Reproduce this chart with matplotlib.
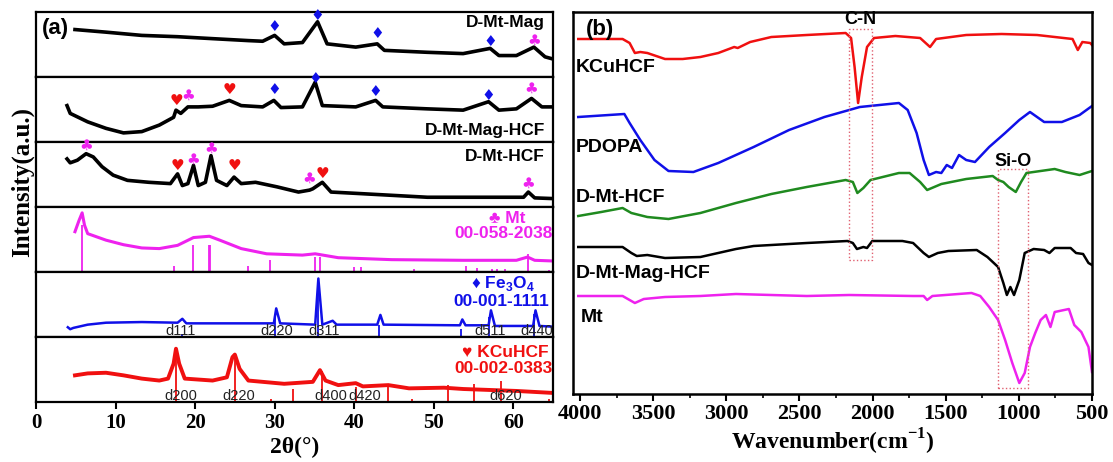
import numpy as np
import matplotlib.pyplot as plt
from matplotlib.ticker import MultipleLocator

SANS = ['Liberation Sans', 'DejaVu Sans']
SERIF = ['Liberation Serif', 'DejaVu Serif']
SYM = ['DejaVu Sans']

plt.rcParams['font.family'] = SERIF
plt.rcParams['font.weight'] = 'bold'
plt.rcParams['mathtext.fontset'] = 'custom'
plt.rcParams['mathtext.rm'] = 'Liberation Sans:bold'
plt.rcParams['mathtext.bf'] = 'Liberation Serif:bold'

RED = '#f01010'
BLUE = '#1010e8'
MAG = '#ee22ee'
GREEN = '#1f8a1f'

xrd_ticks = [0, 10, 20, 30, 40, 50, 60]
ftir_ticks = [4000, 3500, 3000, 2500, 2000, 1500, 1000, 500]

# ---------------- (a) XRD, each row normalised 0..1 ----------------
mag_x = [4.9, 8.8, 13.3, 17.8, 22.2, 26.7, 28.5, 30.0, 31.2, 33.5, 35.4, 36.6, 40.2,
         42.9, 43.8, 49.2, 53.7, 57.1, 58.2, 60.4, 62.6, 64.0, 64.9]
mag_y = [0.73, 0.69, 0.64, 0.62, 0.59, 0.56, 0.55, 0.64, 0.51, 0.53, 0.85, 0.51, 0.46,
         0.51, 0.41, 0.38, 0.36, 0.44, 0.33, 0.33, 0.46, 0.31, 0.28]

maghcf_x = [3.9, 4.3, 6.5, 8.8, 11.0, 13.3, 15.5, 17.3, 17.6, 18.2, 19.1, 20.4, 22.2, 24.3,
            25.8, 28.5, 29.9, 30.8, 33.5, 35.1, 36.0, 40.2, 42.7, 43.6, 49.2, 53.7, 56.9,
            58.2, 60.4, 62.3, 63.6, 64.9]
maghcf_y = [0.56, 0.44, 0.31, 0.21, 0.14, 0.16, 0.26, 0.38, 0.49, 0.44, 0.54, 0.54, 0.55, 0.64,
            0.56, 0.54, 0.64, 0.53, 0.54, 0.92, 0.56, 0.54, 0.64, 0.54, 0.51, 0.49, 0.62,
            0.49, 0.51, 0.67, 0.54, 0.54]

hcf_x = [3.9, 4.3, 5.2, 6.3, 7.2, 8.3, 9.7, 11.5, 14.2, 16.9, 17.8, 18.4, 19.1, 19.8, 20.4,
         21.3, 22.0, 22.7, 24.0, 24.9, 25.8, 27.6, 30.3, 33.0, 34.4, 34.8, 36.0, 37.1, 40.2,
         49.2, 58.2, 61.3, 61.9, 62.7, 64.9]
hcf_y = [0.74, 0.68, 0.72, 0.82, 0.77, 0.62, 0.49, 0.41, 0.38, 0.36, 0.51, 0.33, 0.36, 0.64, 0.33,
         0.38, 0.79, 0.41, 0.33, 0.46, 0.36, 0.38, 0.31, 0.23, 0.26, 0.28, 0.38, 0.23, 0.21,
         0.15, 0.15, 0.15, 0.23, 0.14, 0.13]

mt_x = [4.9, 5.4, 5.8, 6.1, 6.5, 8.8, 11.0, 13.3, 15.5, 17.8, 19.8, 21.8, 23.1, 25.8, 29.0,
        33.5, 35.1, 38.0, 44.7, 53.7, 60.4, 61.8, 62.7, 64.9]
mt_y = [0.62, 0.79, 0.91, 0.72, 0.59, 0.49, 0.42, 0.37, 0.36, 0.41, 0.53, 0.55, 0.49, 0.36, 0.28,
        0.26, 0.28, 0.22, 0.19, 0.18, 0.18, 0.23, 0.18, 0.17]
mt_stick_x = [5.8, 17.3, 19.8, 21.7, 21.9, 26.6, 29.4, 35.1, 35.7, 40.0, 40.8, 47.5, 54.0,
              55.4, 57.3, 58.0, 59.0, 61.8, 64.5]
mt_stick_h = [0.72, 0.10, 0.41, 0.41, 0.41, 0.10, 0.18, 0.23, 0.23, 0.08, 0.08, 0.04, 0.09,
              0.06, 0.05, 0.05, 0.05, 0.28, 0.03]

fe_x = [4.0, 4.3, 4.7, 6.5, 8.8, 13.3, 17.8, 18.4, 18.9, 29.9, 30.2, 30.7, 35.1, 35.5, 36.0,
        37.3, 37.8, 42.9, 43.3, 43.7, 53.3, 53.6, 54.0, 56.9, 57.2, 57.7, 62.5, 62.8, 63.3, 64.9]
fe_y = [0.15, 0.12, 0.14, 0.19, 0.22, 0.23, 0.22, 0.28, 0.21, 0.21, 0.44, 0.21, 0.19, 0.90, 0.19,
        0.25, 0.19, 0.19, 0.34, 0.19, 0.18, 0.27, 0.18, 0.18, 0.41, 0.17, 0.17, 0.41, 0.17, 0.16]
fe_stick_x = [18.3, 30.1, 35.5, 43.1, 53.4, 57.0, 62.6]
fe_stick_h = [0.05, 0.30, 0.85, 0.18, 0.13, 0.30, 0.35]
fe_d_x = [18.2, 30.3, 36.2, 57.1, 62.9]
fe_d_txt = ['d111', 'd220', 'd311', 'd511', 'd440']

cu_x = [4.9, 6.5, 8.8, 11.0, 13.3, 15.5, 16.6, 17.3, 17.6, 18.0, 18.7, 22.2, 24.0, 24.7, 25.0,
        25.6, 26.7, 31.2, 34.8, 35.7, 36.4, 38.0, 40.2, 41.1, 44.3, 46.9, 51.3, 53.7, 58.2,
        60.4, 64.9]
cu_y = [0.41, 0.44, 0.45, 0.41, 0.36, 0.33, 0.36, 0.59, 0.82, 0.59, 0.36, 0.33, 0.38, 0.69, 0.73,
        0.51, 0.33, 0.28, 0.31, 0.49, 0.33, 0.26, 0.29, 0.24, 0.26, 0.21, 0.22, 0.20, 0.18,
        0.17, 0.14]
cu_stick_x = [17.6, 25.0, 29.5, 32.3, 35.9, 40.2, 44.3, 47.3, 51.8, 55.1, 58.5, 64.5]
cu_stick_h = [0.80, 0.70, 0.05, 0.20, 0.48, 0.23, 0.23, 0.05, 0.26, 0.28, 0.33, 0.04]
cu_d_x = [18.2, 25.5, 37.1, 41.3, 59.1]
cu_d_txt = ['d200', 'd220', 'd400', 'd420', 'd620']

# phase markers per row: (2theta, height)
dia_rows = {0: [(30.0, 0.77), (35.4, 0.95), (42.9, 0.67), (57.1, 0.54)],
            1: [(29.9, 0.81), (35.1, 0.98), (42.7, 0.78), (56.9, 0.72)]}
club_rows = {0: [(62.6, 0.56)],
             1: [(19.1, 0.72), (62.3, 0.82)],
             2: [(6.3, 0.95), (19.8, 0.73), (22.0, 0.90), (34.4, 0.44), (61.9, 0.37)]}
heart_rows = {1: [(17.6, 0.64), (24.3, 0.81)],
              2: [(17.8, 0.64), (24.9, 0.64), (36.0, 0.51)]}

# ---------------- (b) FTIR ----------------
k_wn = [4012, 3709, 3661, 3625, 3588, 3540, 3419, 3298, 3177, 3055, 2946, 2922, 2837, 2692,
        2450, 2184, 2147, 2123, 2099, 2074, 2038, 1990, 1844, 1675, 1607, 1566, 1360, 1118,
        876, 633, 597, 566, 512, 500]
k_t = [355, 355, 351, 341, 342, 341, 335, 335, 337, 341, 347, 346, 352, 357,
       359, 361, 356, 327, 291, 317, 347, 356, 358, 356, 347, 355, 359, 360,
       359, 355, 344, 352, 351, 349]

p_wn = [4012, 3697, 3661, 3588, 3491, 3395, 3225, 3055, 2813, 2571, 2329, 2087, 1820, 1760,
        1699, 1651, 1615, 1566, 1530, 1493, 1457, 1409, 1360, 1300, 1203, 1094, 997, 924,
        827, 706, 585, 500]
p_t = [277, 280, 271, 254, 234, 223, 222, 231, 247, 264, 277, 287, 291, 284,
       261, 234, 219, 222, 221, 229, 226, 239, 234, 232, 247, 261, 274, 282,
       272, 272, 279, 288]

g_wn = [4012, 3855, 3709, 3649, 3540, 3395, 3177, 2934, 2692, 2450, 2184, 2135, 2104, 2063,
        2014, 1820, 1747, 1675, 1627, 1530, 1360, 1179, 1142, 1106, 1070, 1021, 985, 948,
        755, 682, 585, 500]
g_t = [178, 182, 186, 181, 177, 175, 181, 191, 200, 207, 214, 212, 201, 206,
       214, 221, 221, 212, 204, 210, 215, 218, 214, 212, 207, 202, 212, 221,
       225, 222, 219, 223]

b_wn = [4012, 3709, 3649, 3612, 3540, 3419, 3177, 2934, 2813, 2450, 2172, 2135, 2107, 2063,
        2038, 2002, 1796, 1723, 1651, 1615, 1554, 1482, 1288, 1215, 1142, 1106, 1082, 1058,
        1033, 997, 960, 899, 827, 791, 755, 646, 609, 561, 524, 500]
b_t = [147, 147, 141, 138, 139, 136, 137, 145, 148, 151, 153, 151, 145, 147,
       146, 153, 153, 151, 141, 137, 141, 143, 144, 137, 127, 111, 99, 107,
       99, 114, 141, 145, 144, 141, 146, 146, 141, 140, 131, 129]

m_wn = [4012, 3709, 3625, 3564, 3419, 3177, 2934, 2450, 2160, 1723, 1651, 1627, 1591, 1324,
        1264, 1203, 1142, 1094, 1045, 997, 960, 924, 888, 851, 815, 784, 755, 658, 621,
        573, 524, 500]
m_t = [98, 98, 91, 95, 97, 98, 100, 98, 99, 98, 98, 94, 98, 101,
       98, 87, 74, 54, 31, 11, 21, 47, 61, 74, 79, 67, 82, 85, 69,
       62, 47, 22]

cn_box = (2164, 2002, 134, 365)
sio_box = (1142, 936, 6, 225)

fig = plt.figure(figsize=(11.13, 4.62), dpi=100)

# left stacked panel
L, R, B, T = 36 / 1113, 553 / 1113, 1 - 402 / 462, 1 - 12 / 462
rh = (T - B) / 6
axs = []
for i in range(6):
    ax = fig.add_axes([L, T - (i + 1) * rh, R - L, rh])
    ax.set_xlim(0, 65)
    ax.set_ylim(0, 1)
    ax.set_yticks([])
    for s in ax.spines.values():
        s.set_linewidth(1.6)
    if i < 5:
        ax.set_xticks([])
    axs.append(ax)

axs[0].plot(mag_x, mag_y, color='black', lw=2.6)
axs[1].plot(maghcf_x, maghcf_y, color='black', lw=2.6)
axs[2].plot(hcf_x, hcf_y, color='black', lw=2.6)
axs[3].plot(mt_x, mt_y, color=MAG, lw=2.2)
axs[3].vlines(mt_stick_x, 0, mt_stick_h, color=MAG, lw=1.3)
axs[4].plot(fe_x, fe_y, color=BLUE, lw=1.8)
axs[4].vlines(fe_stick_x, 0, fe_stick_h, color=BLUE, lw=1.3)
axs[5].plot(cu_x, cu_y, color=RED, lw=2.8)
axs[5].vlines(cu_stick_x, 0, cu_stick_h, color=RED, lw=1.3)

dl = dict(ha='center', va='center', fontsize=10.5, color='#222222', family=SANS, fontweight='normal')
for xx, tt in zip(fe_d_x, fe_d_txt):
    axs[4].text(xx, 0.09, tt, **dl)
for xx, tt in zip(cu_d_x, cu_d_txt):
    axs[5].text(xx, 0.09, tt, **dl)

for row, pts in dia_rows.items():
    for xx, yy in pts:
        axs[row].text(xx, yy, '\u2666', color=BLUE, fontsize=11, ha='center', va='center', family=SYM)
for row, pts in club_rows.items():
    for xx, yy in pts:
        axs[row].text(xx, yy, '\u2663', color=MAG, fontsize=11, ha='center', va='center', family=SYM)
for row, pts in heart_rows.items():
    for xx, yy in pts:
        axs[row].text(xx, yy, '\u2665', color=RED, fontsize=11, ha='center', va='center', family=SYM)

lab = dict(fontsize=12.5, fontweight='bold', family=SANS, ha='right', va='center')
axs[0].text(0.985, 0.84, 'D-Mt-Mag', transform=axs[0].transAxes, **lab)
axs[1].text(0.985, 0.18, 'D-Mt-Mag-HCF', transform=axs[1].transAxes, **lab)
axs[2].text(0.985, 0.77, 'D-Mt-HCF', transform=axs[2].transAxes, **lab)
axs[3].text(0.947, 0.82, '\u2663 Mt', transform=axs[3].transAxes, color=MAG, **lab)
axs[3].text(0.999, 0.60, '00-058-2038', transform=axs[3].transAxes, color=MAG, **lab)
axs[4].text(0.964, 0.82, '\u2666 Fe$_3$O$_4$', transform=axs[4].transAxes, color=BLUE, **lab)
axs[4].text(0.992, 0.55, '00-001-1111', transform=axs[4].transAxes, color=BLUE, **lab)
axs[5].text(0.992, 0.77, '\u2665 KCuHCF', transform=axs[5].transAxes, color=RED, **lab)
axs[5].text(0.999, 0.51, '00-002-0383', transform=axs[5].transAxes, color=RED, **lab)
axs[0].text(0.012, 0.74, '(a)', transform=axs[0].transAxes, fontsize=16, fontweight='bold',
            family=SANS, va='center')

bx = axs[5]
bx.set_xticks(xrd_ticks, [str(v) for v in xrd_ticks], family=SERIF, fontweight='bold')
bx.tick_params(axis='x', direction='out', length=5, width=1.5, labelsize=15, pad=3)
bx.set_xlabel('2\u03b8(\u00b0)', fontsize=17, fontweight='bold', labelpad=3)
fig.text(0.02, 0.606, 'Intensity(a.u.)', rotation=90, ha='center', va='center',
         fontsize=18, fontweight='bold')

# right FTIR panel
ax2 = fig.add_axes([573 / 1113, 1 - 394 / 462, (1092 - 573) / 1113, (394 - 12) / 462])
ax2.plot(k_wn, k_t, color=RED, lw=1.8)
ax2.plot(p_wn, p_t, color=BLUE, lw=1.8)
ax2.plot(g_wn, g_t, color=GREEN, lw=1.8)
ax2.plot(b_wn, b_t, color='black', lw=1.8)
ax2.plot(m_wn, m_t, color=MAG, lw=1.8)
for x0, x1, y0, y1 in [cn_box, sio_box]:
    ax2.plot([x0, x1, x1, x0, x0], [y0, y0, y1, y1, y0], color='#e06070', lw=1.0, ls=':')
ax2.set_xlim(4048, 500)
ax2.set_ylim(0, 382)
ax2.set_yticks([])
ax2.set_xticks(ftir_ticks, [str(v) for v in ftir_ticks], family=SERIF, fontweight='bold')
ax2.xaxis.set_minor_locator(MultipleLocator(250))
ax2.tick_params(axis='x', which='major', direction='out', length=5, width=1.5, labelsize=16, pad=2)
ax2.tick_params(axis='x', which='minor', direction='out', length=3, width=1.2)
for s in ax2.spines.values():
    s.set_linewidth(1.8)
ax2.set_xlabel('Wavenumber(cm$^{\\mathbf{-1}}$)', fontsize=17, fontweight='bold', labelpad=2)

rl = dict(fontsize=14, fontweight='bold', family=SANS, ha='left', va='center')
ax2.text(4030, 327, 'KCuHCF', **rl)
ax2.text(4030, 246, 'PDOPA', **rl)
ax2.text(4030, 197, 'D-Mt-HCF', **rl)
ax2.text(4030, 121, 'D-Mt-Mag-HCF', **rl)
ax2.text(3995, 77, 'Mt', **rl)
ax2.text(3960, 365, '(b)', fontsize=16, fontweight='bold', family=SANS, ha='left', va='center')
ax2.text(2087, 375, 'C-N', fontsize=13, fontweight='bold', family=SANS, ha='center', va='center')
ax2.text(1038, 232, 'Si-O', fontsize=13, fontweight='bold', family=SANS, ha='center', va='center')

fig.savefig('out.png', dpi=100)
